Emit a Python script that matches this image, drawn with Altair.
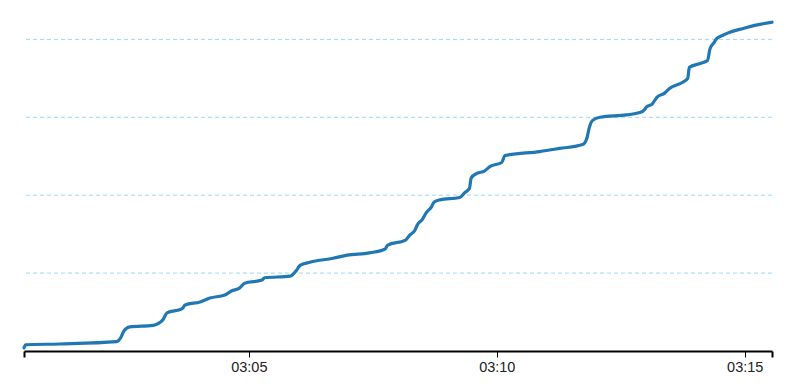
import altair as alt
import pandas as pd

times = ["03:00:28", "03:00:30", "03:01:11", "03:02:20", "03:02:25", "03:02:29", "03:02:36",
         "03:03:04", "03:03:16", "03:03:21", "03:03:39", "03:03:43", "03:04:01", "03:04:13",
         "03:04:31", "03:04:39", "03:04:49", "03:04:55", "03:05:16", "03:05:19", "03:05:50",
         "03:05:58", "03:06:02", "03:06:14", "03:06:42", "03:06:59", "03:07:26", "03:07:45",
         "03:07:48", "03:08:09", "03:08:15", "03:08:21", "03:08:24", "03:08:30", "03:08:35",
         "03:08:41", "03:08:44", "03:08:51", "03:09:15", "03:09:21", "03:09:27", "03:09:29",
         "03:09:36", "03:09:45", "03:09:52", "03:10:06", "03:10:10", "03:10:52", "03:11:16",
         "03:11:44", "03:11:49", "03:11:52", "03:11:56", "03:12:05", "03:12:37", "03:12:53",
         "03:12:59", "03:13:01", "03:13:08", "03:13:14", "03:13:23", "03:13:29", "03:13:45",
         "03:13:51", "03:13:53", "03:14:06", "03:14:15", "03:14:18", "03:14:23", "03:14:26",
         "03:14:33", "03:14:42", "03:14:58", "03:15:12", "03:15:22", "03:15:33"]
values = [4, 8, 9, 12, 17, 26, 31,
          33, 40, 49, 54, 59, 63, 68,
          72, 77, 81, 87, 91, 94, 96,
          104, 110, 114, 119, 123, 126, 131,
          136, 142, 149, 155, 162, 169, 178,
          185, 191, 194, 197, 203, 209, 222,
          228, 231, 237, 242, 251, 256, 260,
          265, 273, 287, 296, 300, 303, 306,
          310, 313, 317, 326, 331, 337, 345,
          350, 364, 369, 373, 388, 396, 401,
          405, 409, 414, 418, 420, 422]

x_start = "03:00:28"
x_end = "03:15:33"
x_ticks = ["03:05:00", "03:10:00", "03:15:00"]
y_grid = [100, 200, 300, 400]
y_max = 430

DAY = "2024-01-01T"
df = pd.DataFrame({"time": [DAY + t for t in times], "value": values})
grid_df = pd.DataFrame({"value": y_grid})

tick_values = [alt.DateTime(year=2024, month=1, date=1,
                            hours=int(t[0:2]), minutes=int(t[3:5]), seconds=int(t[6:8]))
               for t in [x_start] + x_ticks + [x_end]]

x_enc = alt.X("time:T",
              scale=alt.Scale(domain=[DAY + x_start, DAY + x_end], nice=False),
              axis=alt.Axis(
                  title=None, values=tick_values, grid=False,
                  labelExpr="seconds(datum.value) != 0 ? '' : timeFormat(datum.value, '%H:%M')",
                  domainColor="black", domainWidth=2,
                  tickColor="black",
                  tickWidth={"condition": {"test": "seconds(datum.value) != 0", "value": 2}, "value": 1},
                  tickSize=6, labelPadding=3,
                  labelFont="Liberation Sans", labelFontSize=14.5, labelColor="#222",
                  labelFlush=False, labelOverlap=False,
              ))
y_scale = alt.Scale(domain=[0, y_max], nice=False)

grid = alt.Chart(grid_df).mark_rule(
    color="#9ad8f2", strokeDash=[4, 3], strokeWidth=1
).encode(
    y=alt.Y("value:Q", scale=y_scale, axis=None),
)

line = alt.Chart(df).mark_line(
    color="#2077b4", strokeWidth=3.2, interpolate="monotone", strokeCap="round"
).encode(
    x=x_enc,
    y=alt.Y("value:Q", scale=y_scale, axis=None),
)

chart = alt.layer(grid, line).properties(
    width=748, height=335,
    padding={"left": 16, "top": 8, "right": 20, "bottom": 30},
    autosize=alt.AutoSizeParams(type="none"),
).configure_view(stroke=None)

chart.save("out.html", embed_options={"renderer": "svg", "actions": False})
